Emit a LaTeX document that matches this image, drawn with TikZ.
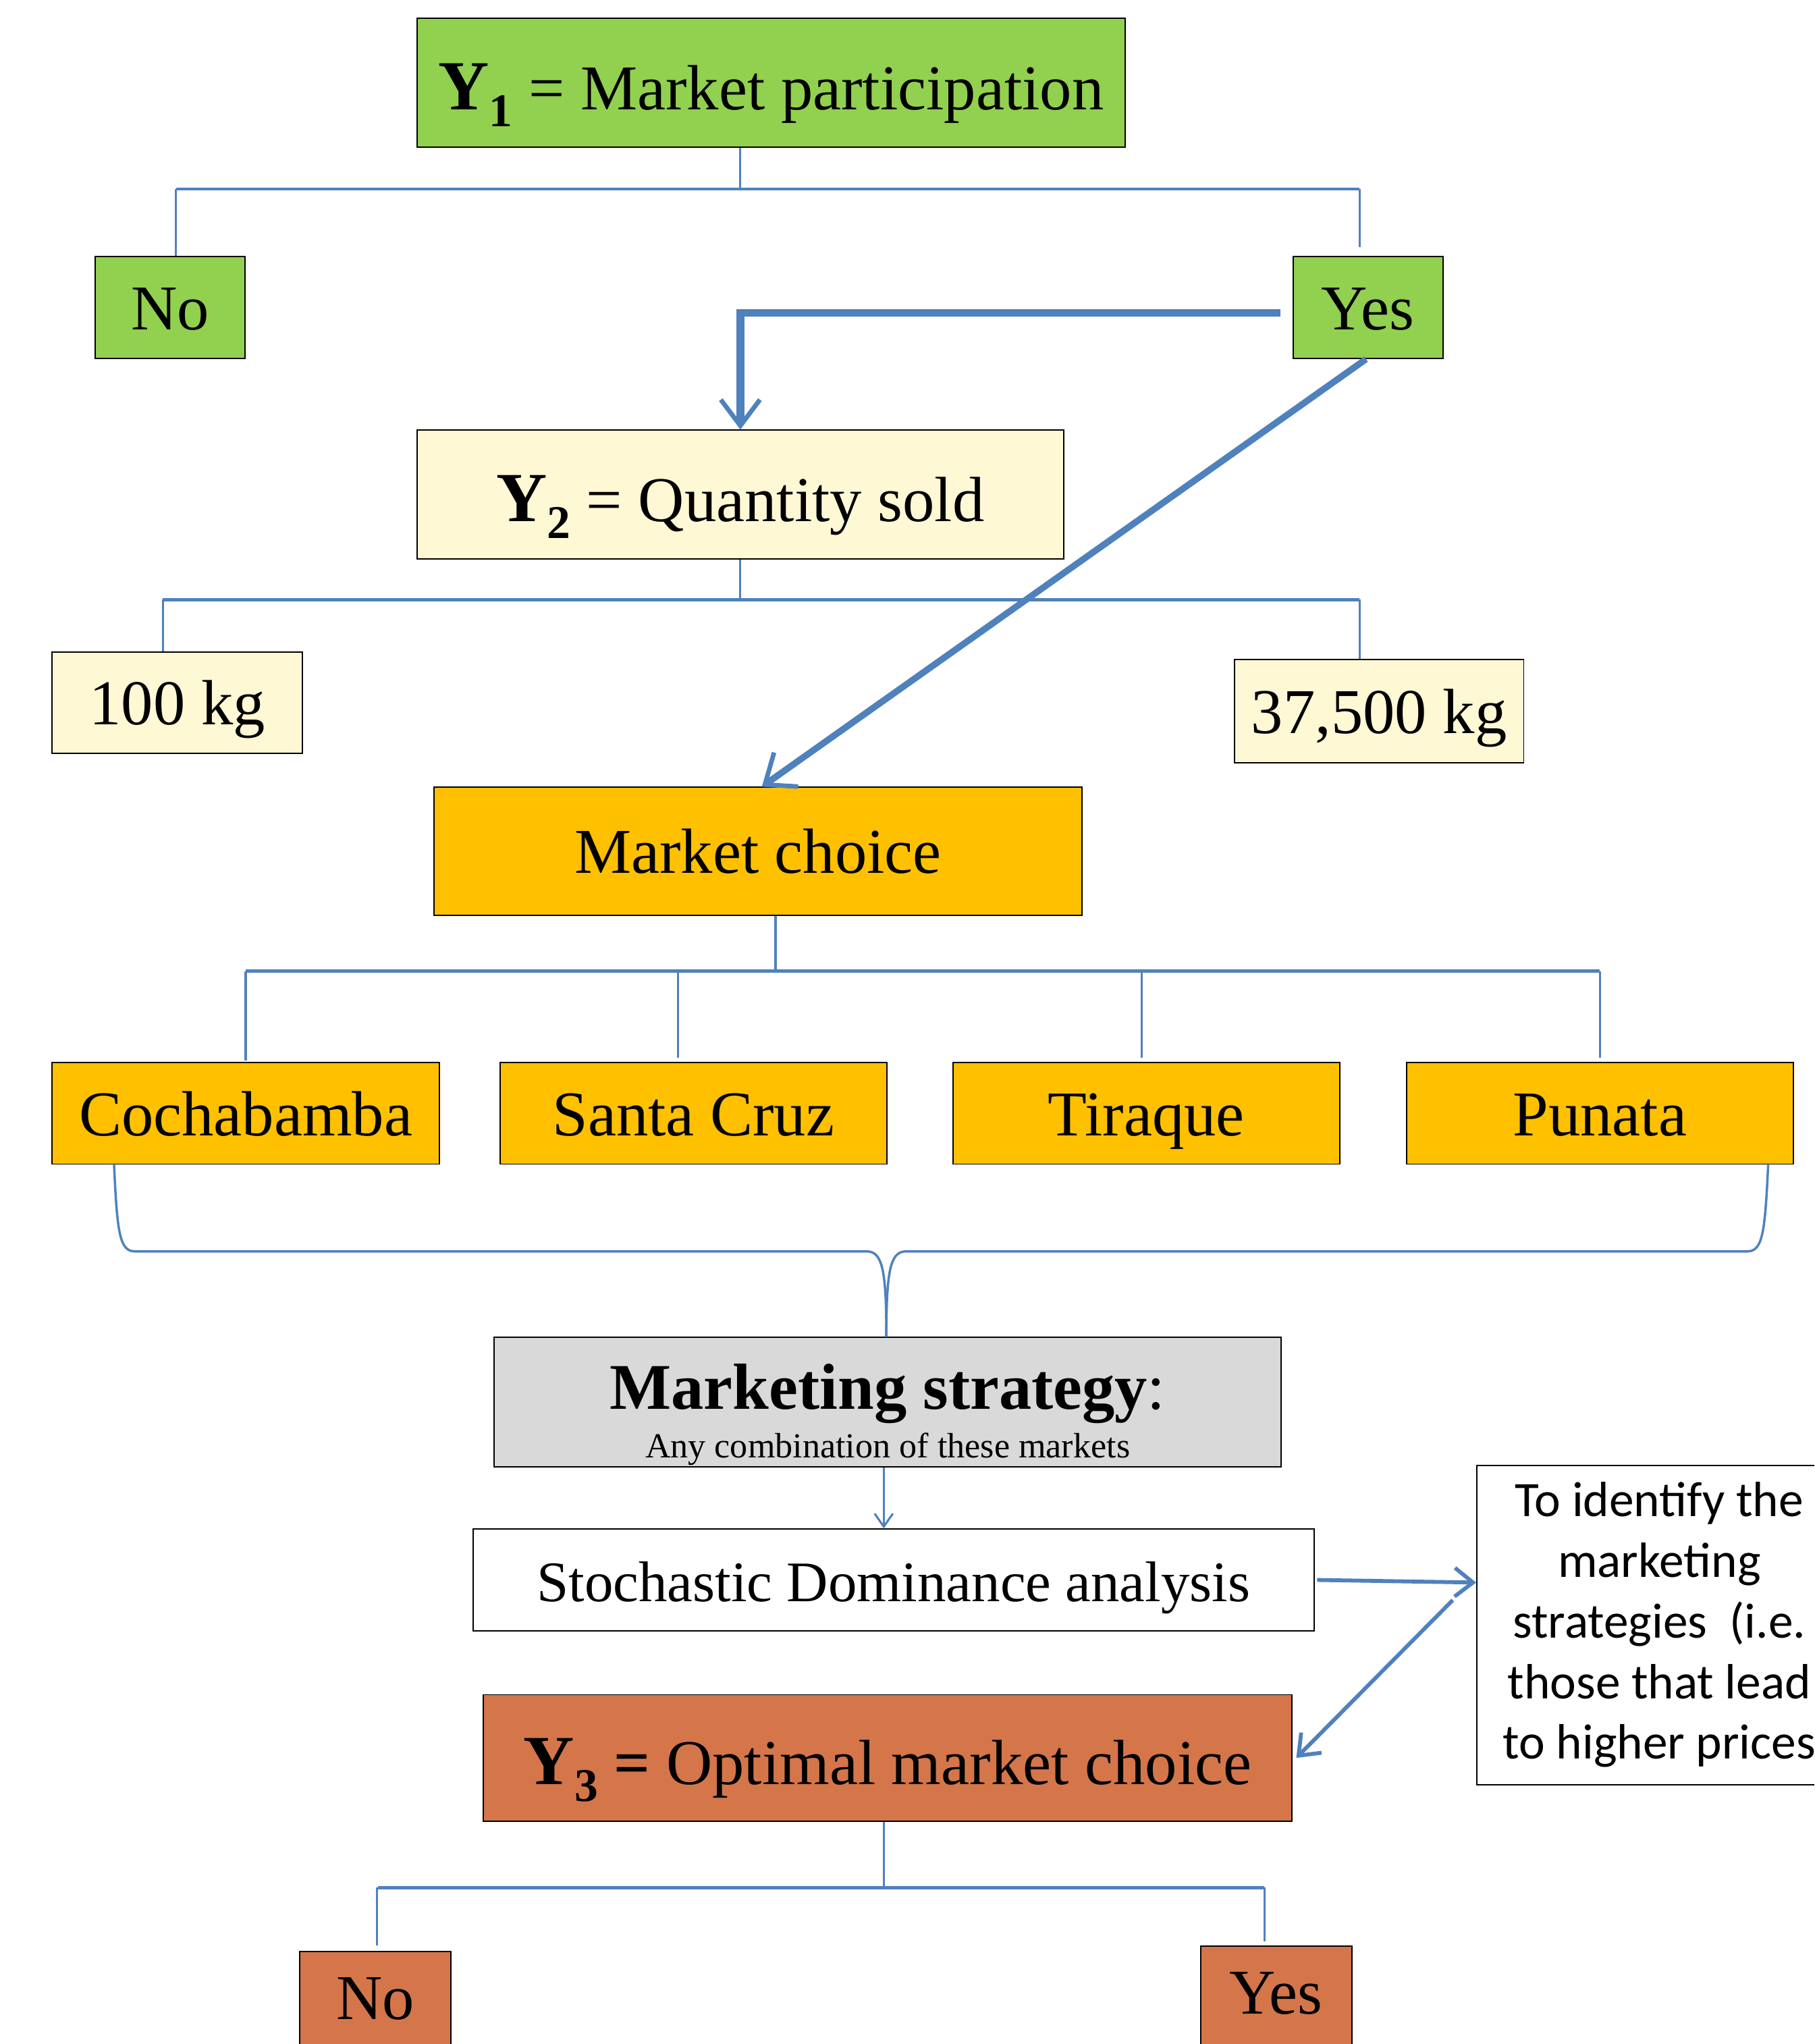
\documentclass[tikz,border=0pt]{standalone}
\usepackage{fontspec}
\setmainfont{Liberation Serif}
\newfontfamily\notefont{Carlito}
\usetikzlibrary{arrows.meta,calc}
\definecolor{cgreen}{HTML}{92D050}
\definecolor{cyell}{HTML}{FFF8D5}
\definecolor{corange}{HTML}{FFC000}
\definecolor{cgrey}{HTML}{D9D9D9}
\definecolor{cterra}{HTML}{D4764A}
\definecolor{cblue}{HTML}{4F81BD}
\newcommand\Ysub[1]{{\fontsize{54}{54}\selectfont\bfseries Y}\raisebox{-13pt}{\fontsize{36}{36}\selectfont\bfseries #1}}
\begin{document}
\begin{tikzpicture}[x=1pt,y=-1pt,
  box/.style={draw=black,line width=1pt,inner sep=0pt,text height=34pt,text depth=0pt,font=\fontsize{49}{58}\selectfont},
  conn/.style={draw=cblue,line width=1.6pt},
  connh/.style={draw=cblue,line width=2.4pt},
  bracestyle/.style={draw=cblue,line width=1.8pt},
  thickarrow/.style={draw=cblue,line width=6pt,-{Straight Barb[length=20pt,width=30pt,line width=3.5pt]}},
  diagarrow/.style={draw=cblue,line width=5pt,-{Straight Barb[length=20pt,width=32pt,line width=3.5pt]}},
  thinarrow/.style={draw=cblue,line width=1.6pt,-{Straight Barb[length=10pt,width=14pt]}},
  medarrow/.style={draw=cblue,line width=3pt,-{Straight Barb[length=14pt,width=22pt]}}
]
\useasboundingbox (0,0) rectangle (1392,1568);
\clip (0,0) rectangle (1392,1568);
\fill[white] (0,0) rectangle (1392,1568);

% nodes
\node[box,fill=cgreen,minimum width=543pt,minimum height=99pt,text height=41pt] (y1) at (591.5,63.5) {\Ysub{1} = Market participation};
\node[box,fill=cgreen,minimum width=115pt,minimum height=78pt] (no1) at (130.5,236) {No};
\node[box,fill=cgreen,minimum width=115pt,minimum height=78pt] (yes1) at (1049.5,236) {Yes};
\node[box,fill=cyell,minimum width=496pt,minimum height=99pt,text height=41pt] (y2) at (568,379.5) {\Ysub{2} = Quantity sold};
\node[box,fill=cyell,minimum width=192pt,minimum height=78pt] (kg1) at (136,539) {100 kg};
\node[box,fill=cyell,minimum width=222pt,minimum height=79pt] (kg2) at (1058,545.5) {37,500 kg};
\node[box,fill=corange,minimum width=497pt,minimum height=98pt] (mc) at (581.5,653) {Market choice};
\node[box,fill=corange,minimum width=297pt,minimum height=78pt] (coch) at (188.5,854) {Cochabamba};
\node[box,fill=corange,minimum width=297pt,minimum height=78pt] (sc) at (532,854) {Santa Cruz};
\node[box,fill=corange,minimum width=297pt,minimum height=78pt] (tir) at (879.5,854) {Tiraque};
\node[box,fill=corange,minimum width=297pt,minimum height=78pt] (pun) at (1227.5,854) {Punata};
\node[box,fill=cgrey,minimum width=604pt,minimum height=99pt] (ms) at (681,1075.5) {};
\node[anchor=base,inner sep=0pt,font=\fontsize{50}{50}\selectfont] (mst) at (681,1081) {\textbf{Marketing strategy}:};
\node[anchor=base,inner sep=0pt,font=\fontsize{27}{27}\selectfont] (msa) at (681,1118) {Any combination of these markets};
\node[box,fill=white,minimum width=645pt,minimum height=78pt,font=\fontsize{44}{44}\selectfont,text height=33pt] (sda) at (685.5,1212) {Stochastic Dominance analysis};
\node[box,fill=white,minimum width=280pt,minimum height=245pt] (note) at (1273,1246.5) {};
\node[align=center,inner sep=0pt,font=\notefont\fontsize{38}{46.5}\selectfont] (notet) at (note.center) {To identify the\\marketing\\strategies\ \ (i.e.\\those that lead\\to higher prices};
\node[box,fill=cterra,minimum width=620pt,minimum height=97pt,text height=41pt] (y3) at (681,1348.5) {\Ysub{3} \textbf{=} Optimal market choice};
\node[box,fill=cterra,minimum width=116pt,minimum height=78pt,text height=26pt] (no3) at (288,1536) {No};
\node[box,fill=cterra,minimum width=116pt,minimum height=78pt,text height=26pt] (yes3) at (979,1532) {Yes};

% Y1 tree
\coordinate (j1) at (568,145);
\draw[conn] (y1.south -| j1) -- (j1);
\draw[connh] ([xshift=4.5pt]no1.north |- j1) -- ([xshift=-6.5pt]yes1.north |- j1);
\draw[conn] ([xshift=4.5pt]no1.north |- j1) -- ([xshift=4.5pt]no1.north);
\draw[conn] ([xshift=-6.5pt]yes1.north |- j1) -- ([shift={(-6.5,-7)}]yes1.north);

% Y2 tree
\coordinate (j2) at (568,460);
\draw[conn] (y2.south) -- (j2);
\draw[connh] ([xshift=-11pt]kg1.north |- j2) -- ([xshift=-15pt]kg2.north |- j2);
\draw[conn] ([xshift=-11pt]kg1.north |- j2) -- ([xshift=-11pt]kg1.north);
\draw[conn] ([xshift=-15pt]kg2.north |- j2) -- ([xshift=-15pt]kg2.north);

% Market choice tree
\coordinate (j3) at (595,745);
\draw[conn] (mc.south -| j3) -- (j3);
\draw[connh] (coch.north |- j3) -- (pun.north |- j3);
\draw[conn] (coch.north |- j3) -- ([yshift=1pt]coch.north);
\draw[conn] ([xshift=-12pt]sc.north |- j3) -- ([shift={(-12,-3)}]sc.north);
\draw[conn] ([xshift=-3.5pt]tir.north |- j3) -- ([shift={(-3.5,-3)}]tir.north);
\draw[conn] (pun.north |- j3) -- ([yshift=3pt]pun.north);

% brace
\coordinate (bl) at ([xshift=48pt]coch.south west);
\coordinate (br) at ([xshift=-20pt]pun.south east);
\coordinate (bt) at ([xshift=-1pt]ms.north);
\draw[bracestyle] (bl) .. controls (90,948) and (92,960) .. (104,960) -- (666,960) .. controls (677,961) and (680,975) .. (bt);
\draw[bracestyle] (br) .. controls (1354,948) and (1352,960) .. (1340,960) -- (694,960) .. controls (683,961) and (680,975) .. (bt);

% Y3 tree
\coordinate (j4) at (678,1448);
\draw[conn] (y3.south -| j4) -- (j4);
\draw[connh] ([xshift=2pt]no3.north |- j4) -- ([xshift=-9pt]yes3.north |- j4);
\draw[conn] ([xshift=1pt]no3.north |- j4) -- ([shift={(1,-4)}]no3.north);
\draw[conn] ([xshift=-9pt]yes3.north |- j4) -- ([shift={(-9,-3)}]yes3.north);

% arrows
\draw[thickarrow] ([shift={(-9,4)}]yes1.west) -| (y2.north);
\draw[diagarrow] ([xshift=-1.5pt]yes1.south) -- ([xshift=3pt]mc.north);
\draw[thinarrow] ([xshift=-3pt]ms.south) -- ([xshift=-3pt]ms.south |- sda.north);
\draw[medarrow] ([xshift=2pt]sda.east) -- ([yshift=-2pt]note.west |- sda.east);
\draw[medarrow] ([shift={(-18,-19)}]note.west) -- ([xshift=3pt]y3.east);
\end{tikzpicture}
\end{document}
